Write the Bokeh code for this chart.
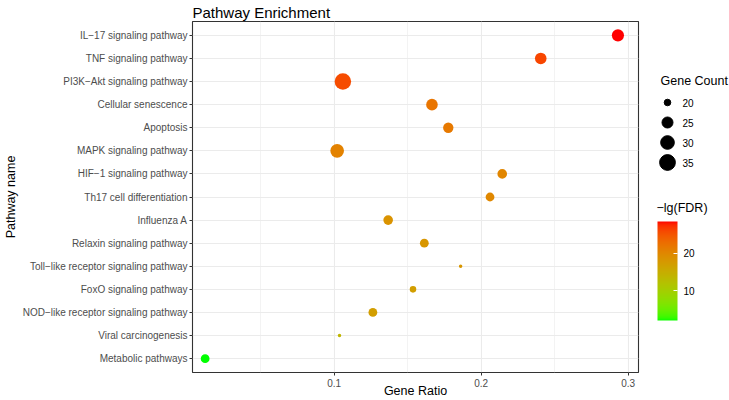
import math
from bokeh.plotting import figure
from bokeh.models import (FactorRange, Range1d, FixedTicker, LinearColorMapper,
                          ColorBar, ColumnDataSource)
from bokeh.layouts import row
from bokeh.embed import file_html
from bokeh.resources import INLINE
from bokeh.core.properties import value

# ---------------- data (top row of chart first) ----------------
pathways = [
    "IL−17 signaling pathway",
    "TNF signaling pathway",
    "PI3K−Akt signaling pathway",
    "Cellular senescence",
    "Apoptosis",
    "MAPK signaling pathway",
    "HIF−1 signaling pathway",
    "Th17 cell differentiation",
    "Influenza A",
    "Relaxin signaling pathway",
    "Toll−like receptor signaling pathway",
    "FoxO signaling pathway",
    "NOD−like receptor signaling pathway",
    "Viral carcinogenesis",
    "Metabolic pathways",
]
gene_ratio = [0.293, 0.2405, 0.1059, 0.1665, 0.1776, 0.102, 0.2143, 0.206,
              0.1367, 0.1613, 0.186, 0.1536, 0.1263, 0.1036, 0.0122]
gene_count = [27, 26, 37, 26, 24, 30, 23, 22, 23, 22, 19, 20, 22, 19, 22]
neg_lg_fdr = [28.4, 26.0, 25.6, 22.0, 21.5, 20.5, 20.0, 19.8, 18.4, 18.0,
              18.0, 17.0, 17.0, 13.8, 2.0]

x_ticks = [0.1, 0.2, 0.3]
x_minor_ticks = [0.05, 0.15, 0.25]
count_legend = [20, 25, 30, 35]
fdr_ticks = [10, 20]

FONT = "Liberation Sans"

# ---------------- scales ----------------
cmin, cmax = min(gene_count), max(gene_count)


def point_size(c):
    t = (c - cmin) / (cmax - cmin)
    return 3.5 + 13.0 * math.sqrt(max(t, 0.0))


def _lin(c):
    c = c / 255.0
    return c / 12.92 if c <= 0.04045 else ((c + 0.055) / 1.055) ** 2.4


def _delin(c):
    c = max(0.0, min(1.0, c))
    v = 12.92 * c if c <= 0.0031308 else 1.055 * c ** (1 / 2.4) - 0.055
    return max(0, min(255, int(round(v * 255))))


def rgb_to_lab(r, g, b):
    R, G, B = _lin(r), _lin(g), _lin(b)
    X = 0.4124564 * R + 0.3575761 * G + 0.1804375 * B
    Y = 0.2126729 * R + 0.7151522 * G + 0.0721750 * B
    Z = 0.0193339 * R + 0.1191920 * G + 0.9503041 * B

    def f(t):
        return t ** (1 / 3) if t > 216 / 24389 else (24389 / 27 * t + 16) / 116
    fx, fy, fz = f(X / 0.95047), f(Y / 1.0), f(Z / 1.08883)
    return 116 * fy - 16, 500 * (fx - fy), 200 * (fy - fz)


def lab_to_hex(L, a, b):
    fy = (L + 16) / 116
    fx = fy + a / 500
    fz = fy - b / 200

    def finv(t):
        return t ** 3 if t ** 3 > 216 / 24389 else (116 * t - 16) / (24389 / 27)
    X = finv(fx) * 0.95047
    Y = finv(fy)
    Z = finv(fz) * 1.08883
    R = 3.2404542 * X - 1.5371385 * Y - 0.4985314 * Z
    G = -0.9692660 * X + 1.8760108 * Y + 0.0415560 * Z
    B = 0.0556434 * X - 0.2040259 * Y + 1.0572252 * Z
    return "#%02x%02x%02x" % (_delin(R), _delin(G), _delin(B))


low_lab = rgb_to_lab(0, 255, 0)
high_lab = rgb_to_lab(255, 0, 0)
palette = []
for i in range(256):
    t = i / 255
    palette.append(lab_to_hex(*[lo + (hi - lo) * t for lo, hi in zip(low_lab, high_lab)]))

mapper = LinearColorMapper(palette=palette, low=min(neg_lg_fdr), high=max(neg_lg_fdr))

source = ColumnDataSource(dict(
    name=pathways, ratio=gene_ratio, count=gene_count, fdr=neg_lg_fdr,
    size=[point_size(c) for c in gene_count],
))

# ---------------- main panel ----------------
W, H = 729, 400
PW = 644
X0, X1 = 0.0036, 0.307
p = figure(
    width=PW, height=H,
    x_range=Range1d(X0, X1),
    y_range=FactorRange(factors=list(reversed(pathways)), range_padding=0.1,
                        range_padding_units="absolute"),
    output_backend="svg", toolbar_location=None,
    min_border_left=191, min_border_right=6, min_border_top=20, min_border_bottom=28,
    title="Pathway Enrichment",
)
p.title.text_font = FONT
p.title.text_font_size = "15px"
p.title.text_font_style = "normal"
p.title.text_color = "black"
p.title.align = "left"
p.title.standoff = 2
p.title.text_line_height = 1.0

p.outline_line_color = "#333333"
p.outline_line_width = 1.1
p.background_fill_color = "white"

ticker = FixedTicker(ticks=x_ticks, minor_ticks=x_minor_ticks)
p.xaxis.ticker = ticker
p.xgrid.ticker = ticker
p.xgrid.grid_line_color = "#EBEBEB"
p.xgrid.grid_line_width = 1.1
p.xgrid.minor_grid_line_color = "#EBEBEB"
p.xgrid.minor_grid_line_width = 0.6
p.ygrid.grid_line_color = "#EBEBEB"
p.ygrid.grid_line_width = 1.1

for ax in (p.xaxis, p.yaxis):
    ax.axis_line_color = None
    ax.major_tick_line_color = "#333333"
    ax.major_tick_out = 3
    ax.major_tick_in = 0
    ax.minor_tick_line_color = None
    ax.major_label_text_font = FONT
    ax.major_label_text_font_size = "10px"
    ax.major_label_text_color = "#4D4D4D"
    ax.major_label_standoff = 2
    ax.major_label_text_line_height = 1.0
    ax.axis_label_text_font = FONT
    ax.axis_label_text_font_size = "12.5px"
    ax.axis_label_text_font_style = "normal"
    ax.axis_label_text_color = "black"
    ax.axis_label_text_line_height = 1.0
    ax.axis_label_standoff = 2

p.xaxis.axis_label = "Gene Ratio"
p.xaxis.axis_label_standoff = -6
p.yaxis.axis_label = "Pathway name"

p.scatter(x="ratio", y="name", size="size", source=source,
          fill_color={"field": "fdr", "transform": mapper}, line_color=None)

# ---------------- legends panel ----------------
# the row aligns this panel's frame with the main frame (top FT, bottom FB, page px);
# its y range is set so that one data unit is one pixel, measured up from the page bottom
FT, FB = 21.0, 372.0
lw = W - PW
q = figure(width=lw, height=H, x_range=Range1d(0, lw), y_range=Range1d(H - FB, H - FT),
           x_axis_type=None, y_axis_type=None, min_border=0,
           output_backend="svg", toolbar_location=None)
q.title.visible = False
q.outline_line_color = None
q.grid.visible = False

leg_top = 298
leg_step = 20
leg_y = [leg_top - leg_step * i for i in range(len(count_legend))]
q.scatter(x=[23] * len(count_legend), y=leg_y,
          size=[point_size(c) for c in count_legend], color="black")
q.text(x=[38] * len(count_legend), y=leg_y, text=[str(c) for c in count_legend],
       text_baseline="middle", text_align="left", text_font=value(FONT),
       text_font_size="10px", text_color="black")
q.text(x=[16], y=[leg_top + 22], text=["Gene Count"], text_baseline="middle",
       text_align="left", text_font=value(FONT), text_font_size="12.5px",
       text_color="black")
q.text(x=[12], y=[193], text=["−lg(FDR)"], text_baseline="middle",
       text_align="left", text_font=value(FONT), text_font_size="12.5px",
       text_color="black")

bar_bottom = 320  # page px
cb = ColorBar(color_mapper=mapper, ticker=FixedTicker(ticks=fdr_ticks),
              location=(13, FB - bar_bottom), width=20, height=99, padding=0,
              major_label_text_font=FONT, major_label_text_font_size="10px",
              major_label_text_color="black", label_standoff=6,
              major_tick_line_color="white", major_tick_in=4, major_tick_out=0,
              minor_tick_line_color=None, bar_line_color=None,
              border_line_color=None, background_fill_alpha=0)
q.add_layout(cb, "center")

layout = row(p, q)
open("out.html", "w").write(file_html(layout, INLINE))
